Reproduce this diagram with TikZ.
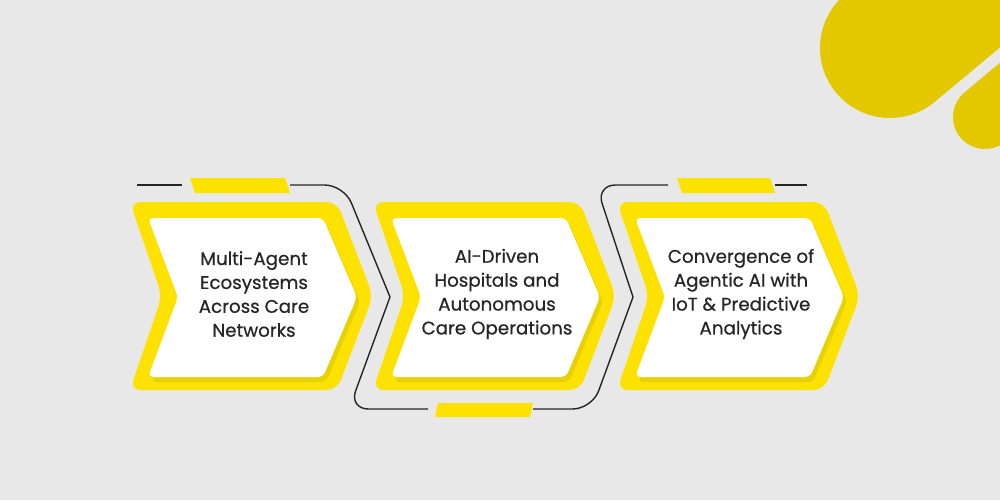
\documentclass[tikz,border=0pt]{standalone}
\usepackage{fontspec}
\setmainfont{Poppins}
\newfontfamily\chevfont[FakeBold=0.6]{Poppins}
\usepackage{tikz}
\usetikzlibrary{positioning}
\definecolor{bggray}{HTML}{E8E8E8}
\definecolor{chevyellow}{HTML}{FDE200}
\definecolor{blobgold}{HTML}{E3C800}
\definecolor{inkgray}{HTML}{262626}

\begin{document}
\begin{tikzpicture}[x=0.02cm,y=-0.02cm,
    chevout/.style={fill=chevyellow, rounded corners=6},
    chevin/.style={fill=white, rounded corners=3},
    chevshade/.style={fill=black, opacity=0.08, rounded corners=3},
    bar/.style={fill=chevyellow},
    wire/.style={draw=inkgray, line width=0.8pt, rounded corners=11},
    label/.style={text=inkgray, align=center, font=\chevfont\fontsize{10.4}{13.6}\selectfont}]
    \fill[bggray] (0,0) rectangle (1000,500);
    % corner blobs
    \begin{scope}
        \clip (0,0) rectangle (1000,500);
        \draw[blobgold, line width=2.8cm, line cap=round] (890,48) -- ++(150,-125);
        \draw[blobgold, line width=1.28cm, line cap=round] (985,117) -- ++(80,-67);
    \end{scope}
    % chevrons
    \fill[chevout, shift={(130,0)}] (0,202) -- (207,202) -- (243,296) -- (207,390) -- (0,390) -- (32,296) -- cycle;
    \fill[chevout, shift={(373,0)}] (0,202) -- (207,202) -- (243,296) -- (207,390) -- (0,390) -- (32,296) -- cycle;
    \fill[chevout, shift={(617,0)}] (0,202) -- (207,202) -- (243,296) -- (207,390) -- (0,390) -- (32,296) -- cycle;
    \fill[chevshade, shift={(133,5)}] (18,218) -- (193,218) -- (227,297) -- (193,377) -- (18,377) -- (48,297) -- cycle;
    \fill[chevshade, shift={(376,5)}] (18,218) -- (193,218) -- (227,297) -- (193,377) -- (18,377) -- (48,297) -- cycle;
    \fill[chevshade, shift={(620,5)}] (18,218) -- (193,218) -- (227,297) -- (193,377) -- (18,377) -- (48,297) -- cycle;
    \fill[chevin, shift={(130,0)}] (18,218) -- (193,218) -- (227,297) -- (193,377) -- (18,377) -- (48,297) -- cycle;
    \fill[chevin, shift={(373,0)}] (18,218) -- (193,218) -- (227,297) -- (193,377) -- (18,377) -- (48,297) -- cycle;
    \fill[chevin, shift={(617,0)}] (18,218) -- (193,218) -- (227,297) -- (193,377) -- (18,377) -- (48,297) -- cycle;
    \node[label] (agents) at (254,294) {Multi-Agent\\Ecosystems\\Across Care\\Networks};
    \node[label] (hospitals) at (497,294) {AI-Driven\\Hospitals and\\Autonomous\\Care Operations};
    \node[label] (iot) at (741,294) {Convergence of\\Agentic AI with\\IoT \& Predictive\\Analytics};
    % wire and bars
    \coordinate (wstart) at (137,185);
    \coordinate (wend) at (807,185);
    \coordinate (bend1) at (390,297);
    \coordinate (bend2) at (633,297);
    \draw[wire] (wstart) -- (182,185);
    \fill[bar] (190,178) -- (285,178) -- (290,193) -- (195,193) -- cycle;
    \draw[wire] (290,185) -- (344,185) -- (bend1);
    \draw[wire] (bend1) -- (349,409) -- (428,409);
    \fill[bar] (438,403) -- (533,403) -- (530,417) -- (435,417) -- cycle;
    \draw[wire] (533,409) -- (592,409) -- (bend2);
    \draw[wire] (bend2) -- (596,185) -- (668,185);
    \fill[bar] (677,178) -- (770,178) -- (775,193) -- (682,193) -- cycle;
    \draw[wire] (775,185) -- (wend);
\end{tikzpicture}
\end{document}
